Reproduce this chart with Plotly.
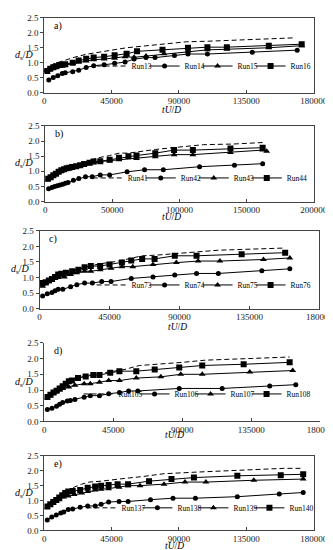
import plotly.graph_objects as go

# ---------------- data ----------------
panel_labels = ["a)", "b)", "c)", "d)", "e)"]
run_names = [["Run13", "Run14", "Run15", "Run16"],
             ["Run41", "Run42", "Run43", "Run44"],
             ["Run73", "Run74", "Run75", "Run76"],
             ["Run105", "Run106", "Run107", "Run108"],
             ["Run137", "Run138", "Run139", "Run140"]]
x_ticks_a = [0, 45000, 90000, 135000, 180000]
x_ticks_b = [0, 50000, 100000, 150000, 200000]
y_ticks = [0.0, 0.5, 1.0, 1.5, 2.0, 2.5]

x13 = [0, 3000, 6000, 10000, 15000, 20000, 28000, 35000, 45000, 55000, 65000, 80000, 95000, 110000, 125000, 150000, 166000]
y13 = [0.72, 0.85, 0.95, 1.02, 1.1, 1.18, 1.28, 1.33, 1.42, 1.5, 1.55, 1.62, 1.7, 1.72, 1.75, 1.8, 1.83]
x14 = [3000, 6000, 9000, 12000, 14000, 19000, 23000, 28000, 33000, 40000, 47000, 54000, 60000, 68000, 74000, 87000, 96000, 109000, 139000, 169000]
y14 = [0.42, 0.5, 0.56, 0.64, 0.66, 0.7, 0.75, 0.84, 0.9, 0.93, 0.98, 1.02, 1.12, 1.17, 1.17, 1.24, 1.29, 1.29, 1.35, 1.42]
x15 = [0, 2000, 4000, 6000, 8000, 10000, 12000, 14000, 19000, 23000, 28000, 33000, 40000, 47000, 54000, 60000, 68000, 80000, 96000, 109000, 122000, 150000, 172000]
y15 = [0.72, 0.75, 0.8, 0.82, 0.85, 0.87, 0.9, 0.92, 0.97, 1.02, 1.06, 1.1, 1.12, 1.15, 1.2, 1.18, 1.22, 1.3, 1.38, 1.43, 1.45, 1.5, 1.57]
x16 = [2000, 4000, 6000, 8000, 10000, 12000, 14000, 19000, 23000, 28000, 33000, 40000, 47000, 55000, 62000, 79000, 96000, 109000, 122000, 150000, 172000]
y16 = [0.72, 0.8, 0.85, 0.88, 0.92, 0.93, 0.95, 1.0, 1.07, 1.13, 1.17, 1.2, 1.25, 1.3, 1.38, 1.43, 1.5, 1.52, 1.52, 1.57, 1.62]

x41 = [2000, 5000, 8000, 12000, 16000, 20000, 25000, 30000, 35000, 40000, 48000, 55000, 62000, 70000, 82000, 95000, 110000, 118000, 140000, 162000]
y41 = [0.72, 0.82, 0.92, 1.02, 1.1, 1.18, 1.25, 1.32, 1.38, 1.45, 1.52, 1.6, 1.6, 1.65, 1.72, 1.78, 1.85, 1.88, 1.9, 1.95]
x42 = [2500, 5000, 7000, 9000, 11000, 13000, 15000, 17000, 21000, 25000, 30000, 35000, 41000, 48000, 61000, 74000, 88000, 115000, 141000, 162000]
y42 = [0.42, 0.46, 0.5, 0.52, 0.55, 0.57, 0.6, 0.63, 0.7, 0.76, 0.82, 0.82, 0.88, 0.88, 0.98, 1.05, 1.05, 1.15, 1.2, 1.25]
x43 = [2000, 4000, 6000, 8000, 10000, 12000, 14000, 16000, 18000, 20000, 23000, 26000, 29000, 33000, 36000, 41000, 48000, 55000, 68000, 82000, 96000, 110000, 138000, 162000, 165000]
y43 = [0.72, 0.78, 0.85, 0.9, 0.97, 1.02, 1.05, 1.08, 1.1, 1.12, 1.15, 1.18, 1.22, 1.25, 1.28, 1.32, 1.35, 1.38, 1.42, 1.48, 1.55, 1.55, 1.62, 1.7, 1.66]
x44 = [2000, 4000, 6000, 8000, 10000, 12000, 14000, 16000, 18000, 20000, 23000, 26000, 29000, 33000, 36000, 41000, 48000, 55000, 62000, 68000, 82000, 96000, 110000, 138000, 162000]
y44 = [0.75, 0.8, 0.87, 0.92, 0.98, 1.03, 1.07, 1.1, 1.12, 1.14, 1.17, 1.2, 1.24, 1.28, 1.32, 1.33, 1.38, 1.45, 1.5, 1.52, 1.6, 1.7, 1.7, 1.75, 1.78]

x73 = [2000, 6000, 10000, 15000, 20000, 25000, 30000, 40000, 50000, 60000, 66000, 75000, 88000, 100000, 115000, 130000, 145000, 158000]
y73 = [0.78, 0.92, 1.05, 1.15, 1.2, 1.27, 1.35, 1.45, 1.52, 1.62, 1.7, 1.72, 1.78, 1.82, 1.88, 1.9, 1.93, 1.95]
x74 = [2000, 5000, 8000, 10000, 12000, 15000, 20000, 24000, 29000, 34000, 40000, 46000, 59000, 73000, 87000, 101000, 115000, 143000, 161000]
y74 = [0.4, 0.48, 0.52, 0.57, 0.62, 0.62, 0.7, 0.77, 0.82, 0.82, 0.87, 0.87, 0.97, 1.02, 1.08, 1.13, 1.13, 1.22, 1.28]
x75 = [2000, 4000, 6000, 8000, 10000, 12000, 16000, 20000, 24000, 29000, 33000, 39000, 46000, 53000, 60000, 73000, 88000, 102000, 116000, 144000, 161000]
y75 = [0.72, 0.8, 0.87, 0.92, 0.97, 1.0, 1.02, 1.1, 1.15, 1.2, 1.2, 1.25, 1.3, 1.35, 1.35, 1.42, 1.48, 1.53, 1.53, 1.58, 1.63]
x76 = [2000, 4000, 6000, 8000, 10000, 12000, 14000, 17000, 21000, 25000, 29000, 33000, 39000, 45000, 53000, 59000, 66000, 74000, 87000, 101000, 130000, 158000]
y76 = [0.82, 0.85, 0.9, 0.95, 1.02, 1.1, 1.12, 1.15, 1.2, 1.25, 1.33, 1.37, 1.37, 1.42, 1.48, 1.55, 1.6, 1.6, 1.7, 1.7, 1.75, 1.8]

x105 = [2000, 6000, 10000, 15000, 20000, 26000, 32000, 42000, 52000, 62000, 75000, 90000, 105000, 120000, 140000, 160000]
y105 = [0.8, 0.95, 1.08, 1.25, 1.38, 1.45, 1.5, 1.58, 1.65, 1.78, 1.82, 1.88, 1.95, 1.98, 2.0, 2.05]
x106 = [2000, 5000, 8000, 10000, 12000, 15000, 17000, 20000, 26000, 30000, 36000, 42000, 49000, 55000, 61000, 88000, 116000, 147000, 164000]
y106 = [0.38, 0.42, 0.48, 0.55, 0.6, 0.65, 0.67, 0.7, 0.77, 0.82, 0.82, 0.88, 0.92, 0.97, 0.97, 1.05, 1.05, 1.13, 1.17]
x107 = [2000, 4000, 6000, 8000, 10000, 12000, 16000, 20000, 26000, 30000, 36000, 42000, 49000, 60000, 76000, 89000, 103000, 134000, 162000]
y107 = [0.75, 0.82, 0.9, 0.95, 1.0, 1.05, 1.1, 1.15, 1.2, 1.2, 1.25, 1.3, 1.3, 1.38, 1.42, 1.5, 1.5, 1.57, 1.62]
x108 = [2000, 4000, 6000, 8000, 10000, 12000, 14000, 16000, 18000, 22000, 27000, 32000, 36000, 43000, 49000, 60000, 72000, 88000, 103000, 130000, 160000]
y108 = [0.78, 0.85, 0.92, 0.98, 1.05, 1.12, 1.2, 1.28, 1.3, 1.38, 1.43, 1.48, 1.48, 1.55, 1.6, 1.6, 1.65, 1.72, 1.78, 1.82, 1.88]

x137 = [2000, 6000, 10000, 15000, 20000, 25000, 30000, 38000, 45000, 55000, 65000, 80000, 100000, 120000, 140000, 160000, 173000]
y137 = [0.8, 0.98, 1.12, 1.3, 1.45, 1.55, 1.62, 1.65, 1.7, 1.75, 1.8, 1.9, 1.95, 2.0, 2.05, 2.08, 2.08]
x138 = [2000, 5000, 8000, 11000, 13000, 16000, 19000, 24000, 29000, 34000, 38000, 43000, 50000, 56000, 71000, 86000, 101000, 129000, 157000, 173000]
y138 = [0.35, 0.45, 0.52, 0.58, 0.62, 0.7, 0.72, 0.78, 0.82, 0.82, 0.88, 0.95, 0.97, 0.97, 1.03, 1.08, 1.08, 1.13, 1.22, 1.27]
x139 = [2000, 4000, 6000, 8000, 10000, 13000, 16000, 20000, 25000, 29000, 34000, 38000, 43000, 50000, 56000, 64000, 80000, 94000, 108000, 140000, 173000]
y139 = [0.78, 0.85, 0.92, 0.98, 1.03, 1.12, 1.15, 1.2, 1.25, 1.3, 1.35, 1.38, 1.4, 1.45, 1.5, 1.5, 1.55, 1.62, 1.62, 1.68, 1.72]
x140 = [2000, 4000, 6000, 8000, 10000, 12000, 14000, 16000, 19000, 24000, 29000, 34000, 38000, 43000, 49000, 56000, 70000, 85000, 100000, 129000, 158000, 173000]
y140 = [0.8, 0.88, 0.95, 1.02, 1.1, 1.18, 1.25, 1.3, 1.32, 1.35, 1.43, 1.47, 1.5, 1.52, 1.55, 1.55, 1.65, 1.72, 1.77, 1.83, 1.85, 1.88]

panel_series = [
    [(x13, y13), (x14, y14), (x15, y15), (x16, y16)],
    [(x41, y41), (x42, y42), (x43, y43), (x44, y44)],
    [(x73, y73), (x74, y74), (x75, y75), (x76, y76)],
    [(x105, y105), (x106, y106), (x107, y107), (x108, y108)],
    [(x137, y137), (x138, y138), (x139, y139), (x140, y140)],
]
panel_xticks = [x_ticks_a, x_ticks_b, x_ticks_a, x_ticks_a, x_ticks_a]

# ---------------- layout geometry (pixels) ----------------
W, H = 333, 550
# (left, right, top, bottom) of each plot area
boxes = [(36, 319, 5, 81), (37, 319, 115, 192), (31, 325, 222, 301),
         (36, 326, 336, 416), (36, 319, 451, 527)]
framed = [True, True, True, False, True]
legend_y_px = [65, 179, 288, 399, 515]
legend_right_px = [321, 317, 321, 321, 324]
legend_entry_w = [8, 8, 8, 11, 11]
last_entry_w = [20, 20, 20, 24, 24]
xlabel_y_px = [99, 208, 320, 430, 543]
xlabel_x_px = [170, 170, 176, 173, 173]
ylabel_x_px = [15, 15, 11, 15, 15]

FONT = "Liberation Serif, Times New Roman, serif"
symbols = [None, "circle", "triangle-up", "square"]
msizes = [0, 5, 6, 6]

fig = go.Figure()
annotations = []
layout = dict(width=W, height=H, margin=dict(l=0, r=0, t=0, b=0),
              paper_bgcolor="white", plot_bgcolor="white",
              font=dict(family=FONT, size=9, color="black"))

for p in range(5):
    l, r, t, b = boxes[p]
    sfx = "" if p == 0 else str(p + 1)
    xa = "x" + sfx
    ya = "y" + sfx
    leg = "legend" + sfx
    for k in range(4):
        xs, ys = panel_series[p][k]
        if k == 0:
            tr = go.Scatter(x=xs, y=ys, mode="lines", name=run_names[p][k],
                            line=dict(color="black", width=1, dash="5px,3px"))
        else:
            tr = go.Scatter(x=xs, y=ys, mode="lines+markers", name=run_names[p][k],
                            line=dict(color="black", width=1),
                            marker=dict(symbol=symbols[k], size=msizes[k], color="black"))
        tr.update(xaxis=xa, yaxis=ya, legend=leg)
        if k == 3:
            tr.update(legendwidth=last_entry_w[p])
        fig.add_trace(tr)

    xt = panel_xticks[p]
    layout["xaxis" + sfx] = dict(
        domain=[l / W, r / W], anchor=ya, range=[xt[0], xt[-1]],
        tickvals=xt, ticktext=[str(v) for v in xt], showgrid=False, zeroline=False,
        showline=True, linecolor="#444", linewidth=1, mirror=framed[p],
        ticks="inside", ticklen=3, tickcolor="#444",
        tickfont=dict(family=FONT, size=9, color="#222"))
    layout["yaxis" + sfx] = dict(
        domain=[1 - b / H, 1 - t / H], anchor=xa, range=[0, 2.5],
        tickvals=y_ticks, ticktext=["%.1f" % v for v in y_ticks], showgrid=False,
        zeroline=False, showline=True, linecolor="#444", linewidth=1, mirror=framed[p],
        ticks="outside", ticklen=3, tickcolor="#444",
        tickfont=dict(family=FONT, size=9, color="#222"))
    layout[leg] = dict(orientation="h", x=legend_right_px[p] / W, xanchor="right",
                       y=1 - (legend_y_px[p] - 11) / H, yanchor="middle",
                       bgcolor="rgba(0,0,0,0)",
                       font=dict(family=FONT, size=7.5, color="black"),
                       itemwidth=30, tracegroupgap=0,
                       entrywidth=legend_entry_w[p], entrywidthmode="pixels")
    annotations.append(dict(text=panel_labels[p], xref="paper", yref="paper",
                            x=(l + 8) / W, y=1 - (t + 8) / H, xanchor="left",
                            yanchor="middle", showarrow=False,
                            font=dict(family=FONT, size=10)))
    annotations.append(dict(text="<i>d</i><sub>s</sub>/<i>D</i>", xref="paper", yref="paper",
                            x=ylabel_x_px[p] / W, y=1 - ((t + b) / 2) / H, xanchor="center",
                            yanchor="middle", showarrow=False, borderpad=0,
                            font=dict(family=FONT, size=10)))
    annotations.append(dict(text="<i>tU</i>/<i>D</i>", xref="paper", yref="paper",
                            x=xlabel_x_px[p] / W, y=1 - xlabel_y_px[p] / H, xanchor="center",
                            yanchor="middle", showarrow=False, borderpad=0,
                            font=dict(family=FONT, size=9.5)))

layout["annotations"] = annotations
fig.update_layout(**layout)
fig.write_html("out.html")
